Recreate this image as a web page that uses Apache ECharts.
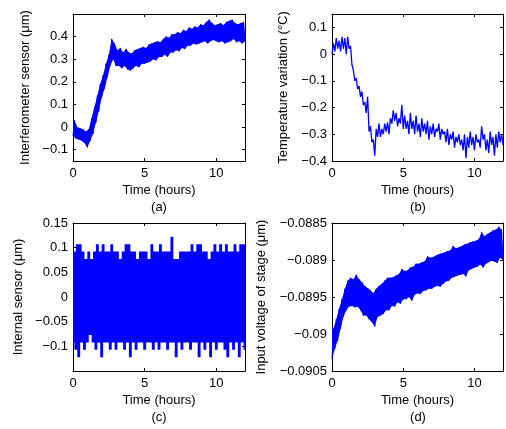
<!DOCTYPE html>
<html><head><meta charset="utf-8">
<script src="https://cdn.jsdelivr.net/npm/echarts@6/dist/echarts.min.js"></script>
<style>html,body{margin:0;padding:0;background:#fff}#c{width:506px;height:429px}</style>
</head><body><div id="c"></div>
<script>
// ---------- data ----------
const xTickLabels = [0, 5, 10];
const xName = 'Time (hours)';
const captions = ['(a)', '(b)', '(c)', '(d)'];
const yNames = ['Interferometer sensor (\u03bcm)', 'Temperature variation (\u00b0C)', 'Internal sensor (\u03bcm)', 'Input voltage of stage (\u03bcm)'];
const yTicksA = [-0.1, 0, 0.1, 0.2, 0.3, 0.4];
const yTicksB = [-0.4, -0.3, -0.2, -0.1, 0, 0.1];
const yTicksC = [-0.1, -0.05, 0, 0.05, 0.1, 0.15];
const yTicksD = [-0.0905, -0.09, -0.0895, -0.089, -0.0885];

// sample times (hours): troughs at 0,0.2,...,12 ; peaks at 0.1,0.3,...,11.9
const troughTimes = Array.from({length: 61}, (_, k) => +(k * 0.2).toFixed(1));
const peakTimes = Array.from({length: 60}, (_, k) => +(k * 0.2 + 0.1).toFixed(1));

// (a) interferometer sensor, µm
const aLower = [-0.04,-0.05,-0.055,-0.06,-0.07,-0.09,-0.06,-0.03,0.02,0.07,0.13,0.17,0.22,0.27,0.30,
  0.27,0.27,0.26,0.27,0.255,0.25,0.26,0.27,0.265,0.28,0.28,0.285,0.29,0.30,0.295,0.31,0.31,0.32,0.31,0.33,
  0.33,0.34,0.335,0.35,0.345,0.36,0.36,0.37,0.365,0.37,0.375,0.38,0.37,0.38,0.385,0.38,0.375,0.38,0.37,0.375,
  0.38,0.39,0.375,0.38,0.37,0.38];
const aUpper = [0.03,0.0,-0.005,-0.01,-0.02,-0.01,0.04,0.09,0.14,0.19,0.23,0.28,0.32,0.39,
  0.37,0.34,0.35,0.33,0.345,0.33,0.325,0.34,0.345,0.35,0.355,0.35,0.365,0.37,0.375,0.38,0.375,0.39,0.40,0.395,
  0.41,0.41,0.42,0.415,0.43,0.425,0.44,0.435,0.445,0.44,0.455,0.45,0.465,0.475,0.46,0.45,0.455,0.46,0.45,0.465,
  0.47,0.475,0.46,0.455,0.46,0.465];

// (b) temperature variation, °C
const bLower = [0.0,0.01,0.02,0.01,0.02,0.0,0.02,-0.04,-0.10,-0.13,-0.16,-0.19,-0.22,-0.29,-0.33,-0.38,
  -0.31,-0.31,-0.30,-0.29,-0.30,-0.26,-0.25,-0.27,-0.26,-0.28,-0.28,-0.30,-0.28,-0.30,-0.29,-0.31,-0.29,-0.30,-0.32,-0.30,
  -0.31,-0.29,-0.32,-0.30,-0.33,-0.34,-0.32,-0.35,-0.33,-0.34,-0.36,-0.39,-0.35,-0.34,-0.36,-0.33,-0.35,-0.32,-0.36,-0.37,
  -0.34,-0.38,-0.35,-0.33,-0.34];
const bUpper = [0.04,0.06,0.05,0.065,0.06,0.065,0.03,-0.06,-0.09,-0.12,-0.14,-0.18,-0.16,-0.27,-0.32,
  -0.28,-0.26,-0.28,-0.26,-0.255,-0.24,-0.21,-0.22,-0.24,-0.19,-0.23,-0.25,-0.22,-0.25,-0.23,-0.26,-0.24,-0.26,-0.25,-0.27,
  -0.26,-0.28,-0.26,-0.28,-0.29,-0.28,-0.30,-0.29,-0.31,-0.30,-0.32,-0.30,-0.31,-0.29,-0.31,-0.30,-0.32,-0.27,-0.30,-0.32,
  -0.29,-0.31,-0.30,-0.29,-0.30];

// (c) internal sensor, µm
const cLower = [-0.092,-0.107,-0.122,-0.092,-0.107,-0.092,-0.077,-0.092,-0.107,-0.092,-0.122,-0.092,-0.092,-0.107,-0.092,
  -0.107,-0.092,-0.092,-0.107,-0.092,-0.122,-0.092,-0.107,-0.092,-0.092,-0.107,-0.092,-0.092,-0.107,-0.092,-0.107,-0.092,
  -0.092,-0.107,-0.092,-0.092,-0.122,-0.092,-0.107,-0.092,-0.092,-0.107,-0.092,-0.092,-0.122,-0.092,-0.107,-0.092,-0.122,
  -0.092,-0.107,-0.092,-0.092,-0.107,-0.122,-0.092,-0.107,-0.092,-0.122,-0.092,-0.107];
const cUpper = [0.092,0.107,0.107,0.092,0.077,0.092,0.077,0.092,0.107,0.092,0.107,0.092,0.092,0.107,0.092,0.092,0.077,
  0.092,0.107,0.107,0.092,0.092,0.077,0.092,0.092,0.092,0.077,0.107,0.092,0.092,0.107,0.092,0.092,0.092,0.122,0.077,0.077,
  0.092,0.092,0.092,0.092,0.107,0.092,0.107,0.107,0.092,0.092,0.077,0.092,0.107,0.092,0.107,0.092,0.107,0.092,0.092,0.107,
  0.092,0.107,0.107];

// (d) input voltage of stage, µm
const dLower = [-0.09034,-0.09020,-0.09009,-0.08993,-0.08977,-0.08968,-0.08963,-0.08962,-0.08964,-0.08963,
  -0.08968,-0.08975,-0.08975,-0.08980,-0.08984,-0.08990,-0.08977,-0.08975,-0.08973,-0.08968,
  -0.08968,-0.08962,-0.08963,-0.08957,-0.08959,-0.08953,-0.08953,-0.08950,-0.08955,-0.08947,
  -0.08945,-0.08946,-0.08942,-0.08941,-0.08939,-0.08939,-0.08936,-0.08935,-0.08936,-0.08932,
  -0.08929,-0.08928,-0.08924,-0.08923,-0.08921,-0.08920,-0.08919,-0.08922,-0.08914,-0.08912,
  -0.08910,-0.08909,-0.08906,-0.08910,-0.08905,-0.08903,-0.08901,-0.08902,-0.08904,-0.08897,-0.08900];
const dUpper = [-0.08993,-0.08980,-0.08966,-0.08953,-0.08939,-0.08928,-0.08924,-0.08926,-0.08920,-0.08926,
  -0.08930,-0.08935,-0.08938,-0.08941,-0.08945,-0.08939,-0.08935,-0.08932,-0.08928,-0.08924,
  -0.08924,-0.08923,-0.08921,-0.08919,-0.08912,-0.08915,-0.08914,-0.08910,-0.08909,-0.08905,
  -0.08905,-0.08903,-0.08902,-0.08895,-0.08897,-0.08896,-0.08894,-0.08892,-0.08891,-0.08890,
  -0.08888,-0.08887,-0.08881,-0.08884,-0.08883,-0.08881,-0.08879,-0.08878,-0.08876,-0.08875,
  -0.08874,-0.08872,-0.08862,-0.08868,-0.08865,-0.08863,-0.08860,-0.08859,-0.08855,-0.08859];

// ---------- layout / styling ----------
const FONT = '"Liberation Sans", Arial, Helvetica, sans-serif';
const FS = 13;
const BLUE = '#0000ff';
const panels = [
  {lower: aLower, upper: aUpper, ticks: yTicksA, min: -0.15, max: 0.5, interval: null, gap: 41, fill: 'slope', trace: true, box: {left: 73, top: 14, width: 172, height: 147}},
  {lower: bLower, upper: bUpper, ticks: yTicksB, min: -0.4, max: 0.15, interval: 0.1, gap: 42, fill: null, trace: true, box: {left: 332, top: 14, width: 172, height: 147}},
  {lower: cLower, upper: cUpper, ticks: yTicksC, min: -0.15, max: 0.15, interval: 0.05, gap: 48, fill: 'step', trace: false, box: {left: 73, top: 223, width: 172, height: 148}},
  {lower: dLower, upper: dUpper, ticks: yTicksD, min: -0.0905, max: -0.0885, interval: 0.0005, gap: 64, fill: 'slope', trace: true, box: {left: 332, top: 223, width: 172, height: 148}}
];
const HALF = 0.1; // half of the sample spacing (hours), used for the step outline

function label(v) { return String(Number(v.toFixed(6))).replace('-', '\u2212'); }
function onlyTicks(list) { return v => list.some(t => Math.abs(t - v) < 1e-9) ? label(v) : ''; }
const clampT = t => Math.max(0, Math.min(12, t));

const grids = [], xAxes = [], yAxes = [], series = [], graphics = [];
const lineCol = '#000';
panels.forEach((p, i) => {
  grids.push(Object.assign({show: false, containLabel: false}, p.box));
  const common = {
    gridIndex: i, type: 'value',
    axisLine: {show: true, onZero: false, lineStyle: {color: lineCol, width: 1}},
    axisTick: {show: true, inside: true, length: 3, lineStyle: {color: lineCol, width: 1}},
    splitLine: {show: false}
  };
  xAxes.push(Object.assign({}, common, {
    position: 'bottom', min: 0, max: 12, interval: 5,
    axisLabel: {formatter: onlyTicks(xTickLabels), margin: 6, color: '#000', fontSize: FS, fontFamily: FONT},
    name: xName, nameLocation: 'middle', nameGap: 23,
    nameTextStyle: {color: '#000', fontSize: FS, fontFamily: FONT}
  }));
  xAxes.push(Object.assign({}, common, {
    position: 'top', min: 0, max: 12, interval: 5, axisLabel: {show: false}
  }));
  const yMain = Object.assign({}, common, {
    position: 'left', min: p.min, max: p.max,
    axisLabel: {formatter: onlyTicks(p.ticks), margin: 5, color: '#000', fontSize: FS, fontFamily: FONT},
    name: yNames[i], nameLocation: 'middle', nameGap: p.gap, nameRotate: 90,
    nameTextStyle: {color: '#000', fontSize: FS, fontFamily: FONT}
  });
  const yMirror = Object.assign({}, common, {position: 'right', min: p.min, max: p.max, axisLabel: {show: false}});
  if (p.interval) { yMain.interval = p.interval; yMirror.interval = p.interval; }
  yAxes.push(yMain, yMirror);

  if (p.fill) {
    // solid band between trough and peak envelopes, drawn through the axes' scales
    series.push({
      type: 'custom', coordinateSystem: 'cartesian2d', xAxisIndex: 2 * i, yAxisIndex: 2 * i,
      data: [0], clip: true, silent: true,
      renderItem: (params, api) => {
        const poly = [];
        if (p.fill === 'step') {
          for (let k = 0; k < troughTimes.length; k++) {
            poly.push(api.coord([clampT(troughTimes[k] - HALF), p.lower[k]]));
            poly.push(api.coord([clampT(troughTimes[k] + HALF), p.lower[k]]));
          }
          for (let k = peakTimes.length - 1; k >= 0; k--) {
            poly.push(api.coord([clampT(peakTimes[k] + HALF), p.upper[k]]));
            poly.push(api.coord([clampT(peakTimes[k] - HALF), p.upper[k]]));
          }
          poly.push(api.coord([0, p.upper[0]]));
        } else {
          for (let k = 0; k < troughTimes.length; k++) poly.push(api.coord([troughTimes[k], p.lower[k]]));
          for (let k = peakTimes.length - 1; k >= 0; k--) poly.push(api.coord([peakTimes[k], p.upper[k]]));
          poly.push(api.coord([0, p.upper[0]]));
        }
        return {type: 'polygon', shape: {points: poly}, style: {fill: BLUE, stroke: null}};
      }
    });
  }
  if (p.trace) {
    // noisy trace: alternating trough/peak samples
    const pts = [];
    for (let k = 0; k < troughTimes.length; k++) {
      pts.push([troughTimes[k], p.lower[k]]);
      if (k < peakTimes.length) pts.push([peakTimes[k], p.upper[k]]);
    }
    series.push({
      type: 'line', xAxisIndex: 2 * i, yAxisIndex: 2 * i, data: pts,
      showSymbol: false, symbol: 'none', clip: true,
      lineStyle: {color: BLUE, width: p.fill ? 1 : 1.3}, itemStyle: {color: BLUE}
    });
  }
  graphics.push({
    type: 'text',
    style: {text: captions[i], x: p.box.left + p.box.width / 2, y: p.box.top + p.box.height + 46,
      align: 'center', verticalAlign: 'middle', fontSize: FS, fontFamily: FONT, fill: '#000'}
  });
});

const chart = echarts.init(document.getElementById('c'), null, {renderer: 'canvas'});
chart.setOption({
  animation: false,
  backgroundColor: '#fff',
  grid: grids, xAxis: xAxes, yAxis: yAxes, series: series, graphic: graphics
});
</script></body></html>
